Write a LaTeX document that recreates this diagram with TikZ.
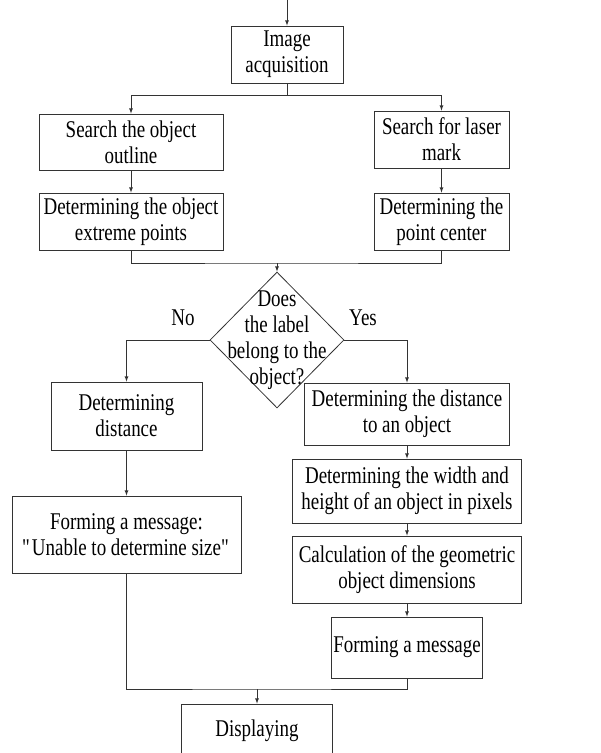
\documentclass[tikz,border=0pt]{standalone}
\usepackage{fontspec}
\setmainfont[FakeStretch=0.79]{Liberation Serif}
\usetikzlibrary{shapes.geometric}

\begin{document}
\begin{tikzpicture}[x=1pt, y=-1pt,
                box/.style={draw, black!80, text=black, line width=0.8pt, inner sep=0pt, align=center, font=\fontsize{24}{26}\selectfont},
                decision/.style={draw, black!80, line width=0.8pt, diamond, inner sep=0pt},
                plain/.style={inner sep=0pt, align=center, font=\fontsize{24}{26}\selectfont},
                line/.style={black!80, line width=0.8pt},
                flow/.style={line, -latex}]
                \useasboundingbox (0, 0) rectangle (601, 753);
                \clip (0, 0) rectangle (601, 753);
                \node [box, minimum width=112pt, minimum height=57pt] (acq) at (287, 54.5) {Image\\acquisition};
                \node [box, minimum width=184pt, minimum height=56pt] (outline) at (131, 142) {Search the object\\outline};
                \node [box, minimum width=135pt, minimum height=57pt] (laser) at (441.5, 139.5) {Search for laser\\mark};
                \node [box, minimum width=184pt, minimum height=57pt] (extreme) at (131, 221.5) {Determining the object\\extreme points};
                \node [box, minimum width=135pt, minimum height=57pt] (pcenter) at (441.5, 221.5) {Determining the\\point center};
                \node [decision, minimum width=134pt, minimum height=136pt] (belong) at (277, 340) {};
                \node [plain] (belongtext) at (277, 340) {Does\\the label\\belong to the\\object?};
                \node [plain] (no) at (183, 318) {No};
                \node [plain] (yes) at (363, 318) {Yes};
                \node [box, minimum width=151pt, minimum height=68pt] (dist) at (126.5, 416) {Determining\\distance};
                \node [box, minimum width=205pt, minimum height=62pt] (todist) at (407, 414) {Determining the distance\\to an object};
                \node [box, minimum width=229pt, minimum height=64pt] (pixels) at (407, 491) {Determining the width and\\height of an object in pixels};
                \node [box, minimum width=229pt, minimum height=77pt] (nosize) at (126.5, 534.5) {Forming a message:\\\textquotedbl Unable to determine size\textquotedbl};
                \node [box, minimum width=229pt, minimum height=67pt] (geom) at (407, 569.5) {Calculation of the geometric\\object dimensions};
                \node [box, minimum width=151pt, minimum height=61pt] (msg) at (407, 647.5) {Forming a message};
                \node [box, minimum width=151pt, minimum height=54pt] (disp) at (257, 731) {Displaying};
                \coordinate (start) at (287, 0);
                \coordinate (split) at (287, 95);
                \coordinate (join) at (277, 263);
                \coordinate (merge) at (257, 689);
                \draw [flow] (start) -- (acq.north);
                \draw [flow] (acq.south) -- (split) -| (outline.north);
                \draw [flow] (split) -| (laser.north);
                \draw [flow] (outline) -- (extreme);
                \draw [flow] (laser) -- (pcenter);
                \draw [line] (extreme.south) |- (join) -| (pcenter.south);
                \draw [flow] (join) -- (belong.north);
                \draw [flow] (belong.west) -| (dist.north);
                \draw [flow] (belong.east) -| (todist.north);
                \draw [flow] (dist) -- (nosize);
                \draw [flow] (todist) -- (pixels);
                \draw [flow] (pixels) -- (geom);
                \draw [flow] (geom) -- (msg);
                \draw [line] (nosize.south) |- (merge) -| (msg.south);
                \draw [flow] (merge) -- (disp.north);
            \end{tikzpicture}
\end{document}
